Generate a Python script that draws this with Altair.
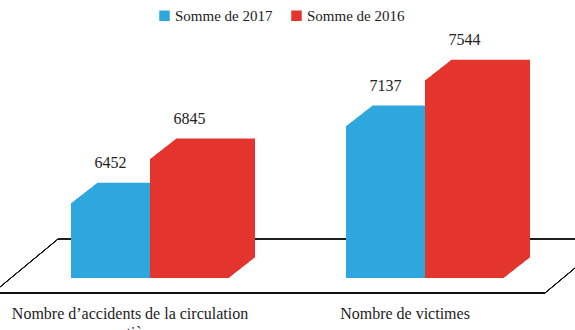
import altair as alt
import pandas as pd
import textwrap

categories = ["Nombre d’accidents de la circulation routière", "Nombre de victimes"]
series = ["Somme de 2017", "Somme de 2016"]
values_2017 = [6452, 7137]
values_2016 = [6845, 7544]
colors = ["#2ea7de", "#e3342e"]

rows = []
for s, vals in zip(series, [values_2017, values_2016]):
    for c, v in zip(categories, vals):
        rows.append({"categorie": c, "serie": s, "valeur": v})
df = pd.DataFrame(rows)

cat_df = pd.DataFrame({
    "categorie": categories,
    "label": ["\n".join(textwrap.wrap(c, 36)) for c in categories],
})

Y_MIN, Y_MAX = 5786, 8255
FONT = "Liberation Serif"

x_enc = alt.X("categorie:N",
              scale=alt.Scale(domain=categories, range=[12.5, 562.5],
                              paddingInner=0, paddingOuter=0),
              axis=None)
y_enc = alt.Y("valeur:Q", scale=alt.Scale(domain=[Y_MIN, Y_MAX], zero=False, nice=False),
              axis=None)
color_enc = alt.Color("serie:N",
                      scale=alt.Scale(domain=series, range=colors),
                      legend=alt.Legend(title=None, orient="none", legendX=157, legendY=8,
                                        direction="horizontal", symbolType="square",
                                        symbolSize=110, symbolStrokeWidth=0,
                                        labelFont=FONT, labelFontSize=15,
                                        labelColor="#222222", labelOffset=3,
                                        columnPadding=16))

# floor plane (decorative)
floor_lines = [
    dict(x=58, y=239, x2=575, y2=239, w=1),
    dict(x=0, y=293, x2=545, y2=293, w=2),
    dict(x=0, y=287, x2=58, y2=239, w=1),
    dict(x=545, y2=268, x2=575, y=293, w=1),
]
layers = []
for ln in floor_lines:
    layers.append(
        alt.Chart(df).mark_rule(color="#111111", strokeWidth=ln["w"]).encode(
            x=alt.value(ln["x"]), x2=alt.value(ln["x2"]),
            y=alt.value(ln["y"]), y2=alt.value(ln["y2"]))
    )

# pseudo-3D boxes: swept copies of each bar
bar_w = 79
for i, s in enumerate(series):
    side = -bar_w / 2 if i == 0 else bar_w / 2
    for k in range(0, 27):
        dy = -0.78 * k
        layers.append(
            alt.Chart(df).transform_filter(alt.datum.serie == s)
            .mark_bar(width=bar_w, xOffset=side + k, x2Offset=side + k,
                      yOffset=dy, y2Offset=dy, cornerRadius=0, strokeWidth=0)
            .encode(x=x_enc, y=y_enc, y2=alt.Y2(datum=Y_MIN), color=color_enc)
        )

# value labels
for i, s in enumerate(series):
    side = -bar_w / 2 if i == 0 else bar_w / 2
    layers.append(
        alt.Chart(df).transform_filter(alt.datum.serie == s)
        .mark_text(xOffset=side, dy=-40, font=FONT, fontSize=16, color="#222222",
                   baseline="middle", align="center")
        .encode(x=x_enc, y=y_enc, text=alt.Text("valeur:Q", format="d"))
    )

# category labels
layers.append(
    alt.Chart(cat_df).mark_text(xOffset=-20, font=FONT, fontSize=16, color="#222222",
                                baseline="alphabetic", align="center", lineBreak="\n",
                                lineHeight=19)
    .encode(x=x_enc, y=alt.value(319), text="label:N")
)

chart = alt.layer(*layers).properties(
    width=575, height=278,
    autosize=alt.AutoSizeParams(type="none"),
    padding={"left": 0, "top": 0, "right": 0, "bottom": 52},
    background="white",
).configure_view(stroke=None)

chart.save("out.html", embed_options={"renderer": "svg", "actions": False})
